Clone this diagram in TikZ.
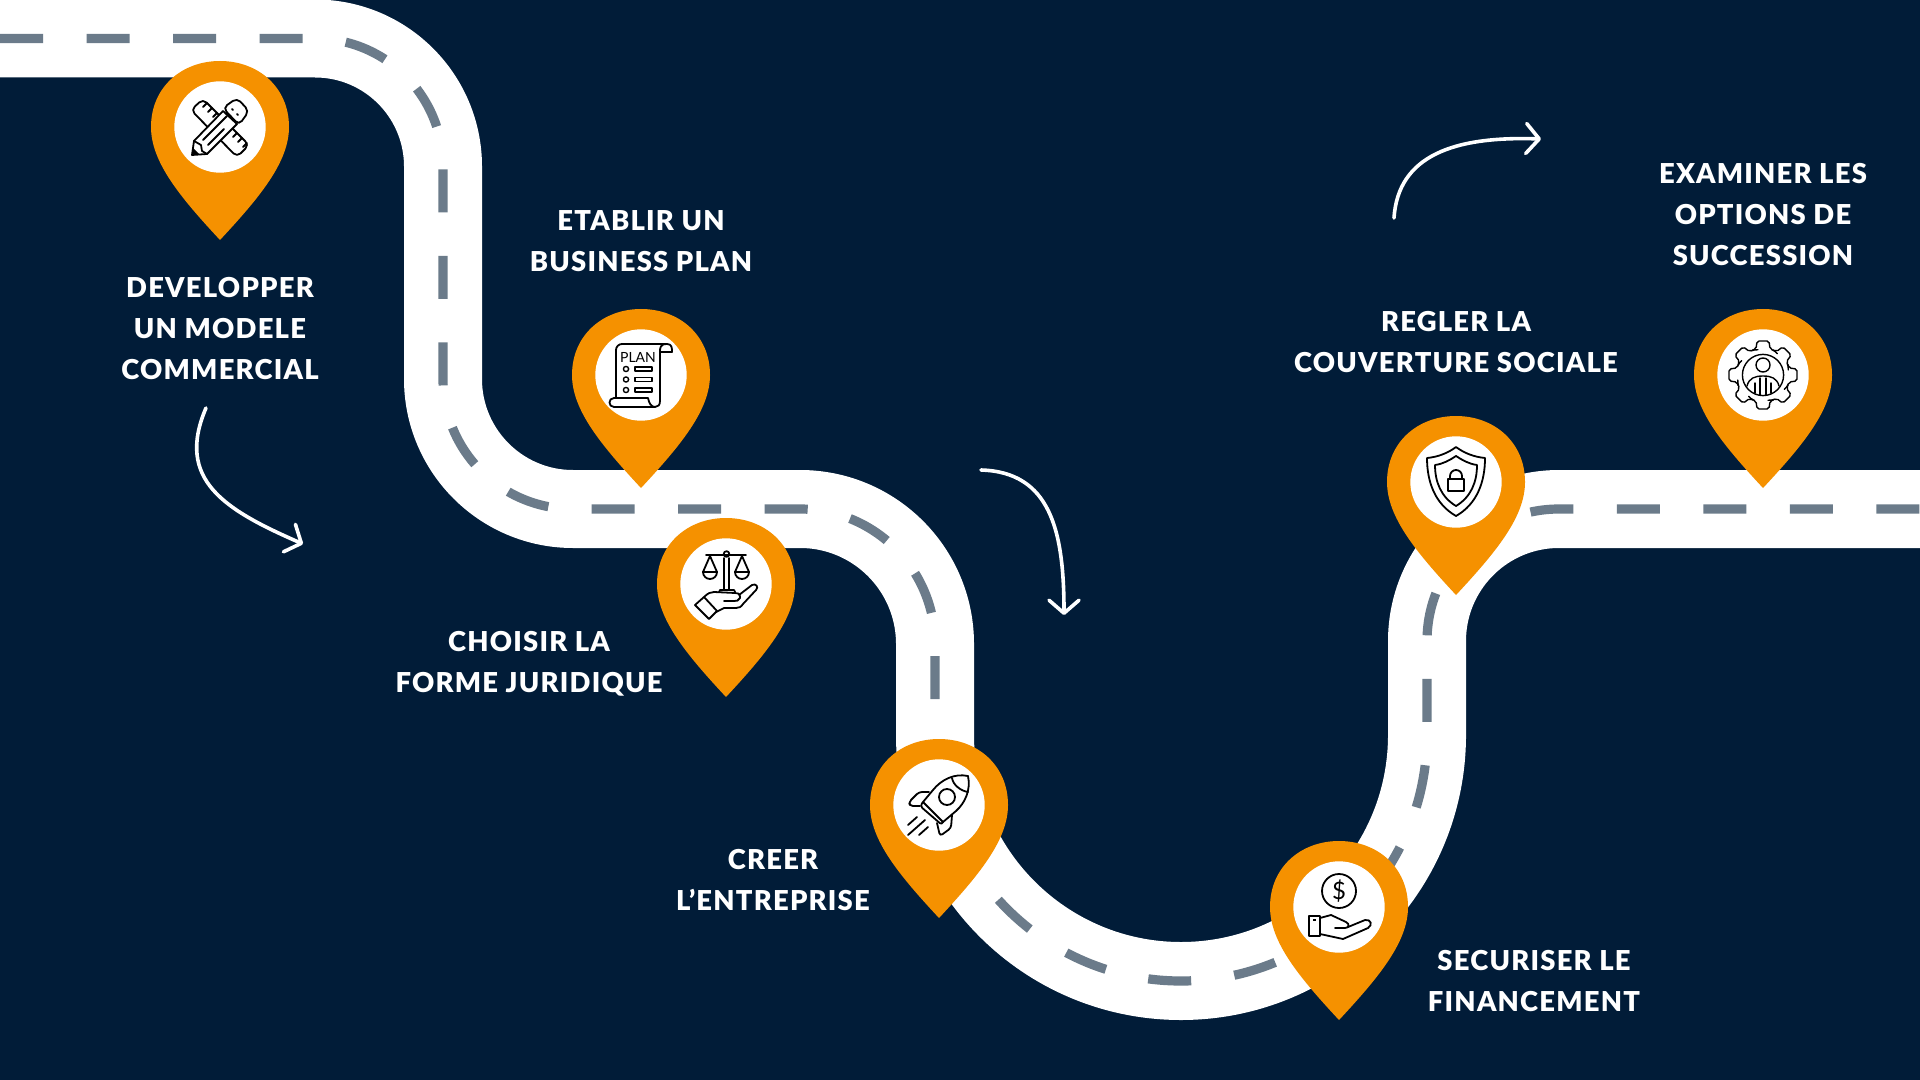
\documentclass[tikz,border=0pt]{standalone}
\usepackage{fontspec}
\setmainfont{Lato}
\newfontfamily\lblfont[LetterSpace=4.5,BoldFont=Lato Black]{Lato}
\usetikzlibrary{arrows.meta}
\definecolor{navy}{HTML}{011C38}
\definecolor{amber}{HTML}{F59100}
\definecolor{slate}{HTML}{6B7B8A}
\tikzset{
  road/.style={draw=white,line width=39pt},
  lane/.style={draw=slate,line width=4.6pt,dash pattern=on 21.5pt off 21.75pt},
  pinbody/.style={fill=amber},
  disc/.style={circle,fill=white,minimum size=45.7pt,inner sep=0pt},
  lbl/.style={font=\lblfont\bfseries\fontsize{13.7}{20.5}\selectfont,text=white,align=center,inner sep=0pt},
  icon/.style={draw=black,line width=0.9pt,line join=round,line cap=round},
  iconw/.style={icon,fill=white},
  arr/.style={draw=white,line width=1.8pt,line cap=round,-{Straight Barb[length=6.5pt,width=15pt,line width=1.8pt,round]}},
}
\begin{document}
\begin{tikzpicture}[x=0.5pt,y=-0.5pt]
\useasboundingbox (0,0) rectangle (1920,1080);
\fill[navy] (0,0) rectangle (1920,1080);
\def\roadline{(0,38.5) -- (315,38.5) arc[start angle=-90,end angle=0,radius=128] -- (443,379) arc[start angle=180,end angle=90,radius=130] -- (800,509) arc[start angle=-90,end angle=0,radius=135] -- (935,735) arc[start angle=180,end angle=0,radius=246] -- (1427,641) arc[start angle=180,end angle=270,radius=132] -- (1920,509)}
\draw[road] \roadline;
\draw[lane] \roadline;
\foreach \n/\x/\y in {1/220/127,2/641/375,3/726/584,4/939/805,5/1339/907,6/1456/482,7/1763/375}{
  \fill[pinbody,shift={(\x,\y)}] (0,113) .. controls (40,70) and (69,35) .. (69,0) .. controls (69,-40) and (38,-66) .. (0,-66) .. controls (-38,-66) and (-69,-40) .. (-69,0) .. controls (-69,35) and (-40,70) .. (0,113) -- cycle;
  \node[disc] (d\n) at (\x,\y) {};
}
\node[lbl] (t1) at (220,328.5) {DEVELOPPER\\UN MODELE\\COMMERCIAL};
\node[lbl] (t2) at (641,241.5) {ETABLIR UN\\BUSINESS PLAN};
\node[lbl] (t3) at (529,663.5) {CHOISIR LA\\FORME JURIDIQUE};
\node[lbl] (t4) at (773,880) {CREER\\L’ENTREPRISE};
\node[lbl] (t5) at (1534,981.5) {SECURISER LE\\FINANCEMENT};
\node[lbl] (t6) at (1456,342.5) {REGLER LA\\COUVERTURE SOCIALE};
\node[lbl] (t7) at (1763,214.5) {EXAMINER LES\\OPTIONS DE\\SUCCESSION};
\coordinate (a1s) at (206,408);
\coordinate (a1e) at (303,544);
\coordinate (a2s) at (1394,218);
\coordinate (a2e) at (1541,139);
\coordinate (a3s) at (981,470);
\coordinate (a3e) at (1064,615);
\draw[arr] (a1s) .. controls (175,480) and (225,510) .. (a1e);
\draw[arr] (a2s) .. controls (1398,155) and (1455,136) .. (a2e);
\draw[arr] (a3s) .. controls (1050,472) and (1064,530) .. (a3e);
\begin{scope}[shift={(d1.center)}]
  \draw[iconw,rounded corners=2.5pt] (-17,-28) -- (-29,-17) -- (17,30) -- (29,18) -- cycle;
  \foreach \k in {0,1,2,6,7,8} \draw[icon] (-13+5*\k,-24+5*\k) -- +(-4,4);
  \draw[iconw] (-28,28) -- (-26,14) -- (3,-16) -- (17,-3) -- (-13,27) -- cycle;
  \draw[iconw,rounded corners=2.5pt] (3,-19) -- (17,-29) -- (29,-16) -- (19,-2) -- cycle;
  \draw[icon] (-26,14) -- (-19,18) -- (-18,24) -- (-13,27);
  \draw[icon] (-17,13) -- (7,-11);
  \draw[icon] (-12,18) -- (4,2);
  \fill (-28,28) -- (-27,21) -- (-21,27) -- cycle;
  \foreach \k in {0,1} \draw[icon] (12+5*\k,-18+5*\k) -- +(1,1);
\end{scope}
\begin{scope}[shift={(d2.center)}]
  \draw[icon,rounded corners=3pt] (-25,23) -- (-25,-31) -- (26,-31);
  \draw[icon] (26,-31) .. controls (19,-31) and (19,-27) .. (19,-23) -- (31,-23) .. controls (31,-27) and (31,-31) .. (26,-31);
  \draw[icon] (19,-23) -- (19,26) .. controls (19,30) and (17,32) .. (14,32) -- (-27,32) .. controls (-33,32) and (-33,23) .. (-27,23) -- (7,23) .. controls (8,28) and (10,32) .. (14,32);
  \node[inner sep=0pt,font=\fontsize{7}{7}\selectfont] (plan) at (-3,-18) {PLAN};
  \foreach \h in {-6,4.5,15}{
    \draw[icon,line width=0.7pt] (-15,\h) circle[radius=1.3pt];
    \draw[icon,line width=0.7pt] (-6,\h-2) rectangle (11,\h+2);
  }
\end{scope}
\begin{scope}[shift={(d3.center)}]
  \draw[icon] (-2,6) -- (-2,-26) (3,-26) -- (3,6) (-7,8) -- (-6,6) -- (8,6) -- (9,8);
  \draw[iconw] (0.5,-30) circle[radius=1.4pt];
  \draw[icon] (-20,-29) -- (20,-29);
  \foreach \s in {-16,16}{
    \draw[icon] (\s-7,-12) -- (\s,-28) -- (\s+7,-12);
    \draw[icon] (\s-7,-12) -- (\s+7,-12) arc[start angle=0,end angle=180,radius=7] -- cycle;
  }
  \draw[icon] (-31,21) -- (-22,13) -- (-9,27) -- (-17,35) -- cycle;
  \draw[icon] (-22,13) .. controls (-18,9) and (-15,8) .. (-12,8) -- (9,9) .. controls (14,9) and (15,12) .. (14,14) .. controls (13,17) and (10,17) .. (8,17) -- (-2,17);
  \draw[icon] (13,11) -- (26,1) .. controls (30,-1) and (33,3) .. (30,6) -- (17,20) .. controls (15,23) and (13,24) .. (10,24) -- (-2,24) -- (-10,28);
\end{scope}
\begin{scope}[shift={(d4.center)}]
  \draw[icon] (29,-29) .. controls (15,-32) and (2,-25) .. (-6,-15) -- (-16,-3) -- (4,17) -- (17,6) .. controls (26,-2) and (32,-15) .. (29,-29) -- cycle;
  \draw[icon] (13,-27) .. controls (14,-20) and (22,-14) .. (29,-13);
  \draw[icon] (8,-8) circle[radius=4pt];
  \draw[icon,rounded corners=1.5pt] (-16,-3) -- (-19,1) -- (3,20) -- (4,17);
  \draw[icon,rounded corners=1.5pt] (-10,-13) -- (-20,-13) -- (-30,-3) -- (-29,1) -- (-19,1);
  \draw[icon,rounded corners=1.5pt] (13,10) -- (12,23) -- (1,31) -- (-2,18);
  \draw[icon] (-31,20) -- (-22,12) (-31,30) -- (-14,15) (-20,30) -- (-11,22);
\end{scope}
\begin{scope}[shift={(d5.center)}]
  \draw[icon] (0,-16) circle[radius=8.5pt];
  \node[inner sep=0pt,font=\fontsize{12}{12}\selectfont] (usd) at (0,-16) {\$};
  \draw[icon] (-30,9) rectangle (-19,29);
  \fill (-26,12) rectangle (-23,14);
  \draw[icon] (-19,11) -- (-8,8) -- (7,15) .. controls (11,17) and (10,21) .. (6,21) -- (-4,21);
  \draw[icon] (9,20) -- (26,13) .. controls (32,12) and (34,18) .. (29,21) -- (4,32) -- (-19,27);
\end{scope}
\begin{scope}[shift={(d6.center)}]
  \draw[icon] (0,-35) .. controls (-8,-29) and (-18,-25) .. (-29,-24) .. controls (-29,0) and (-21,22) .. (0,34) .. controls (21,22) and (29,0) .. (29,-24) .. controls (18,-25) and (8,-29) .. (0,-35) -- cycle;
  \draw[icon] (0,-26) .. controls (-6,-22) and (-13,-18) .. (-21,-17) .. controls (-21,0) and (-15,15) .. (0,24) .. controls (15,15) and (21,0) .. (21,-17) .. controls (13,-18) and (6,-22) .. (0,-26) -- cycle;
  \draw[icon] (-8,-3) rectangle (8,9);
  \draw[icon] (-6,-3) -- (-6,-6) arc[start angle=180,end angle=360,radius=6] -- (6,-3);
\end{scope}
\begin{scope}[shift={(d7.center)}]
  \foreach \a in {0,45,...,315}{
    \draw[icon,line width=0.7pt,rotate=\a,rounded corners=1pt] (25,-10.4) -- (26,-7) -- (34,-6) -- (34,6) -- (26,7) -- (25,10.4) -- (21.4,14.3);
  }
  \draw[icon,line width=0.7pt] (0,0) circle[radius=10.3pt];
  \draw[icon,line width=0.7pt] (0,-10) circle[radius=3.5pt];
  \draw[icon,line width=0.7pt] (-16,11) .. controls (-14,3) and (-8,1) .. (0,1) .. controls (8,1) and (14,3) .. (16,11);
  \draw[icon,line width=0.7pt] (-8,8) -- (-8,18) (8,8) -- (8,18) (-3,3) -- (-3,20) (3,3) -- (3,20);
\end{scope}
\end{tikzpicture}
\end{document}
